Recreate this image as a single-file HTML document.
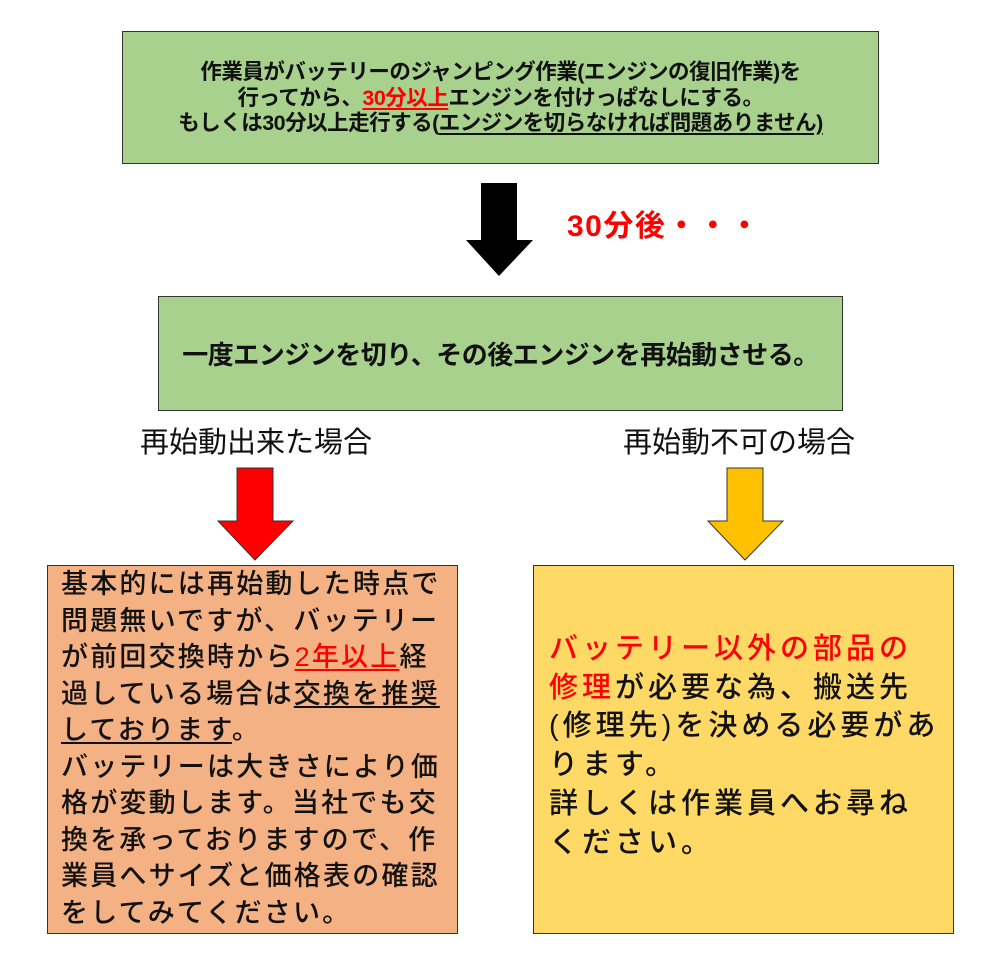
<!DOCTYPE html>
<html><head><meta charset="utf-8"><style>
body{margin:0;width:1000px;height:957px;background:#fff;position:relative;overflow:hidden;font-family:"Liberation Sans","Noto Sans CJK JP",sans-serif;color:#111}
.box{position:absolute;box-sizing:border-box;border:1.5px solid #333}
.t{position:absolute;white-space:nowrap}
.r{color:#f00}
u{text-decoration:underline;text-underline-offset:3px}
</style></head><body>
<div class="box" style="left:122px;top:31px;width:757px;height:133px;background:#a9d18e"></div>
<div class="t" style="left:122px;width:757px;top:60px;text-align:center;font-size:21.5px;line-height:25.5px;font-weight:bold;letter-spacing:-0.5px">作業員がバッテリーのジャンピング作業(エンジンの復旧作業)を<br>行ってから、<u class="r">30分以上</u>エンジンを付けっぱなしにする。<br>もしくは30分以上走行する(<u>エンジンを切らなければ問題ありません)</u></div>

<svg style="position:absolute;left:0;top:0" width="1000" height="957">
<polygon points="481,183 517,183 517,240 533,240 499,276 466,240 481,240" fill="#000"/>
<polygon points="237,468 273,468 273,521 293,521 255,560 218,521 237,521" fill="#f00" stroke="#333" stroke-width="1"/>
<polygon points="727,468 763,468 763,521 783,521 745,560 708,521 727,521" fill="#ffc000" stroke="#333" stroke-width="1"/>
</svg>
<div class="t r" style="left:567px;top:201px;font-size:30px;font-weight:bold;letter-spacing:1.5px">30分後・・・</div>

<div class="box" style="left:158px;top:296px;width:685px;height:115px;background:#a9d18e"></div>
<div class="t" style="left:158px;width:685px;top:335px;text-align:center;font-size:26px;font-weight:bold;letter-spacing:-0.5px">一度エンジンを切り、その後エンジンを再始動させる。</div>

<div class="t" style="left:140px;top:419px;font-size:29px">再始動出来た場合</div>
<div class="t" style="left:623px;top:419px;font-size:29px">再始動不可の場合</div>

<div class="box" style="left:47px;top:565px;width:411px;height:369px;background:#f4b183"></div>
<div class="t" style="left:61px;top:566px;font-size:27px;line-height:36.5px;letter-spacing:2.2px;font-weight:500">基本的には再始動した時点で<br>問題無いですが、バッテリー<br>が前回交換時から<u class="r">2年以上</u>経<br>過している場合は<u>交換を推奨</u><br><u>しております</u>。<br>バッテリーは大きさにより価<br>格が変動します。当社でも交<br>換を承っておりますので、作<br>業員へサイズと価格表の確認<br>をしてみてください。</div>

<div class="box" style="left:533px;top:565px;width:421px;height:369px;background:#ffd966"></div>
<div class="t" style="left:549px;top:630px;font-size:29px;line-height:38.7px;letter-spacing:4px;font-weight:500"><span class="r">バッテリー以外の部品の<br>修理</span>が必要な為、搬送先<br>(修理先)を決める必要があ<br>ります。<br>詳しくは作業員へお尋ね<br>ください。</div>
</body></html>
